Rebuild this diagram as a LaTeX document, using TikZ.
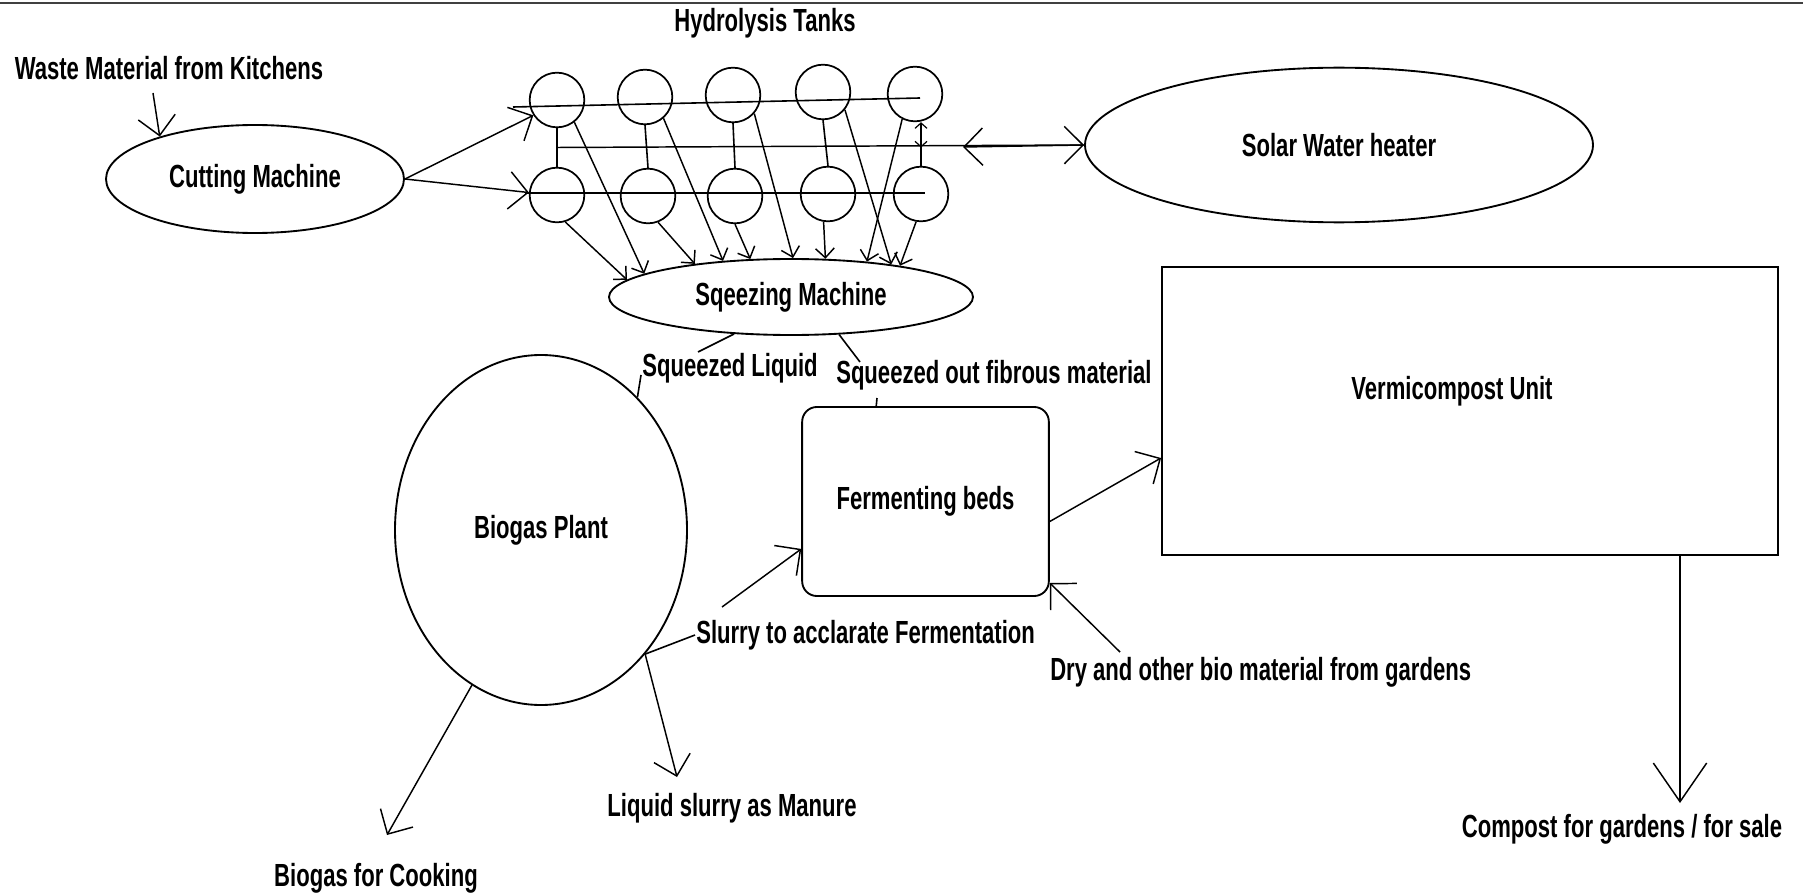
\documentclass[tikz,border=0pt]{standalone}
\usepackage{fontspec}
\setmainfont{Liberation Sans}[FakeStretch=0.69]
\usepackage{tikz}
\usetikzlibrary{shapes.geometric}
\usetikzlibrary{arrows.meta}
\usetikzlibrary{calc}

\begin{document}
\begin{tikzpicture}[x=0.75pt,y=0.75pt,yscale=-1,xscale=1,
  every node/.style={font=\fontsize{24}{28}\selectfont\bfseries},
  unit/.style={draw, ellipse, line width=1.4pt, inner sep=0pt},
  tank/.style={draw, circle, line width=1.3pt, minimum size=41pt, inner sep=0pt},
  box/.style={draw, rectangle, line width=1.4pt, inner sep=0pt},
  txt/.style={inner sep=0.75pt},
  pipe/.style={line width=1.2pt},
  flow/.style={line width=1.1pt, -{Straight Barb[length=14pt,width=28pt]}},
  drip/.style={line width=1.1pt, -{Straight Barb[length=7pt,width=14pt]}},
  drop/.style={line width=1.1pt, -{Straight Barb[length=29pt,width=40pt]}}]
%uncomment if require: \path (0,895); %set diagram left start at 0, and has height of 895
\useasboundingbox (0,0) rectangle (1803,895);

%Straight Lines [top border]
\draw [color={rgb, 255:red, 64; green, 64; blue, 64 }, line width=2.2pt] (0,3) -- (1803,3) ;

%Shape: Ellipse [cutting]
\node [unit, minimum width=223.5pt, minimum height=81pt] (cut) at (255,179) {Cutting Machine};
%Shape: Ellipse [squeezing]
\node [unit, minimum width=273pt, minimum height=57pt] (sqz) at (791,297) {Sqeezing Machine};
%Shape: Ellipse [solar]
\node [unit, minimum width=381pt, minimum height=116pt] (solar) at (1339,145) {Solar Water heater};
%Shape: Ellipse [biogas]
\node [unit, minimum width=219pt, minimum height=262.5pt] (bio) at (541,530) {Biogas Plant};
%Shape: Rectangle [fermenting]
\node [box, rounded corners=11pt, minimum width=185pt, minimum height=141.75pt] (bed) at (925.5,501.5) {Fermenting beds};
%Shape: Rectangle [vermicompost]
\node [box, minimum width=462pt, minimum height=216pt] (vermi) at (1470,411) {};

%Shape: Circle [tanks, upper row]
\node [tank] (tt1) at (557,100) {};
\node [tank] (tt2) at (645,97) {};
\node [tank] (tt3) at (733,95) {};
\node [tank] (tt4) at (823,92) {};
\node [tank] (tt5) at (915,94) {};
%Shape: Circle [tanks, lower row]
\node [tank] (tb1) at (557,195) {};
\node [tank] (tb2) at (648,196) {};
\node [tank] (tb3) at (735,196) {};
\node [tank] (tb4) at (828,194) {};
\node [tank] (tb5) at (921,194) {};

% Text Node
\node [txt] (waste) at (169,68) {Waste Material from Kitchens};
% Text Node
\node [txt] (hydro) at (765,23) {Hydrolysis Tanks};
% Text Node
\node [txt] (vermilbl) at (1452,391) {Vermicompost Unit};
% Text Node
\node [txt] (liquid) at (730,368) {Squeezed Liquid};
% Text Node
\node [txt, anchor=west] (fibrous) at (835,375) {Squeezed out fibrous material};
% Text Node
\node [txt, anchor=west] (slurry) at (695,635) {Slurry to acclarate Fermentation};
% Text Node
\node [txt, anchor=west] (dry) at (1049,672) {Dry and other bio material from gardens};
% Text Node
\node [txt] (manure) at (732,808) {Liquid slurry as Manure};
% Text Node
\node [txt] (cooking) at (376,878) {Biogas for Cooking};
% Text Node
\node [txt] (compost) at (1622,829) {Compost for gardens / for sale};

%Straight Lines [feed]
\draw [flow] ($(waste.center)+(-16,25)$) -- (cut.156) ;
\draw [flow] (cut.east) -- (tt1.-147) ;
\draw [flow] (cut.east) -- (tb1.175) ;

%Straight Lines [tank pipes]
\draw [pipe] ($(tt1.center)+(-44,7)$) -- ($(tt5.center)+(5,4)$) ;
\draw [pipe] ($(tb1.center)+(-32,-2)$) -- ($(tb5.center)+(4,-1)$) ;
\coordinate (hot) at ($(tt1.south)!0.5!(tb1.north)$) ;
\coordinate (hot5) at (tb5.north |- hot) ;
\draw [pipe] (tt1.south) -- (tb1.north) ;
\draw [pipe] (tt2.south) -- (tb2.north) ;
\draw [pipe] (tt3.south) -- (tb3.north) ;
\draw [pipe] (tt4.south) -- (tb4.north) ;
\draw [pipe] (hot5) -- (tb5.north) ;
\draw [line width=0.9pt, {Straight Barb[length=4pt,width=9pt]}-{Straight Barb[length=4pt,width=9pt]}] (hot5) -- (tb5.north |- tt5.south) ;

%Straight Lines [hot water]
\coordinate (ret) at (963,147) ;
\draw [flow] (hot) -- (solar.west) ;
\draw [flow] (solar.west) -- (ret) ;

%Straight Lines [tanks to squeezer]
\draw [drip] (tt1.-52) -- (sqz.171.6) ;
\draw [drip] (tb1.-73) -- (sqz.174.1) ;
\draw [drip] (tt2.-49) -- (sqz.152.1) ;
\draw [drip] (tb2.-69) -- (sqz.161.9) ;
\draw [drip] (tt3.-41) -- (sqz.87) ;
\draw [drip] (tb3.-90) -- (sqz.137.9) ;
\draw [drip] (tt4.-39) -- (sqz.18.3) ;
\draw [drip] (tb4.-99) -- (sqz.48.3) ;
\draw [drip] (tt5.-117) -- (sqz.25.3) ;
\draw [drip] (tb5.-100) -- (sqz.16.6) ;

%Straight Lines [squeezer outputs]
\draw [pipe] (sqz.-147) -- ($(liquid.center)+(-32,-16)$) ;
\draw [pipe] ($(liquid.west)+(0,7)$) -- (bio.54) ;
\draw [pipe] (sqz.-38) -- ($(fibrous.west)+(25,-13)$) ;
\draw [pipe] ($(fibrous.west)+(42,23)$) -- ($(bed.north west)+(75,0)$) ;

%Straight Lines [biogas outputs]
\draw [pipe] (bio.-50) -- (slurry.west) ;
\draw [flow] ($(slurry.west)+(27,-28)$) -- ($(bed.south west)+(0,-48)$) ;
\draw [flow] (bio.-50) -- ($(manure.center)+(-55,-31)$) ;
\draw [flow] (bio.-114) -- ($(cooking.center)+(11,-43)$) ;

%Straight Lines [compost]
\draw [flow] ($(dry.west)+(71,-20)$) -- ($(bed.south east)+(0,-14)$) ;
\draw [flow] ($(bed.east)+(0,20)$) -- ($(vermi.west)+(0,47)$) ;
\coordinate (vout) at ($(vermi.south)+(210,0)$) ;
\draw [drop] (vout) -- ($(compost.center)+(58,-26)$) ;

\end{tikzpicture}
\end{document}
